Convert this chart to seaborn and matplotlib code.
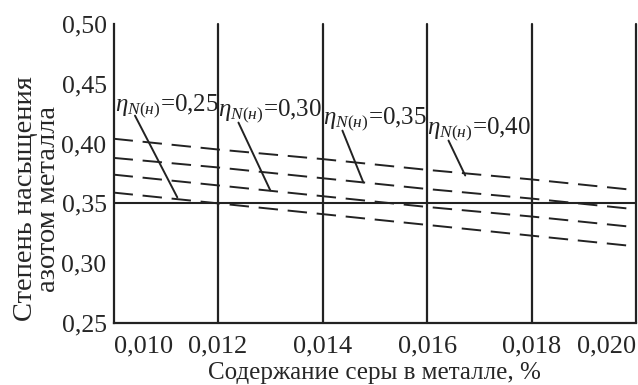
import pandas as pd
import matplotlib
matplotlib.use("Agg")
import matplotlib.pyplot as plt
import seaborn as sns

# Data
sulfur = [0.010, 0.012, 0.014, 0.016, 0.018, 0.020]
eta_labels = ["0,25", "0,30", "0,35", "0,40"]
sat_025 = [0.359, 0.350, 0.341, 0.332, 0.323, 0.314]
sat_030 = [0.374, 0.365, 0.356, 0.347, 0.339, 0.330]
sat_035 = [0.388, 0.380, 0.371, 0.362, 0.354, 0.345]
sat_040 = [0.404, 0.395, 0.387, 0.378, 0.370, 0.361]
reference_level = 0.35

x_ticks = [0.010, 0.012, 0.014, 0.016, 0.018, 0.020]
x_tick_labels = ["0,010", "0,012", "0,014", "0,016", "0,018", "0,020"]
y_ticks = [0.25, 0.30, 0.35, 0.40, 0.45, 0.50]
y_tick_labels = ["0,25", "0,30", "0,35", "0,40", "0,45", "0,50"]

df = pd.DataFrame({
    "S": sulfur * 4,
    "sat": sat_025 + sat_030 + sat_035 + sat_040,
    "eta": [lab for lab in eta_labels for _ in sulfur],
})

sns.set_style("white")
plt.rcParams["font.family"] = ["Liberation Serif", "DejaVu Serif"]
plt.rcParams["mathtext.fontset"] = "custom"
plt.rcParams["mathtext.rm"] = "Liberation Serif"
plt.rcParams["mathtext.it"] = "Liberation Serif:italic"

ink = "#222222"

fig = plt.figure(figsize=(6.38, 3.85), dpi=100)
ax = fig.add_axes([0.178, 0.161, 0.819, 0.777])

sns.lineplot(data=df, x="S", y="sat", hue="eta", palette=[ink] * 4,
             legend=False, ax=ax, linewidth=1.4)
for line in ax.get_lines():
    line.set_dashes((10, 5))

ax.axhline(reference_level, color=ink, lw=1.5)
for xv in x_ticks[1:]:
    ax.axvline(xv, color=ink, lw=1.6, clip_on=False)

ax.set_xlim(0.010, 0.020)
ax.set_ylim(0.25, 0.50)
ax.set_xticks(x_ticks)
ax.set_xticklabels(x_tick_labels, fontsize=19)
ax.set_yticks(y_ticks)
ax.set_yticklabels(y_tick_labels, fontsize=18.5)
labs = ax.get_xticklabels()
labs[0].set_ha("left")
labs[-1].set_ha("right")
ax.tick_params(axis="both", direction="out", length=3, width=1.4, color=ink, pad=2)
ax.tick_params(axis="x", pad=6)

for side in ["top", "right"]:
    ax.spines[side].set_visible(False)
for side in ["left", "bottom"]:
    ax.spines[side].set_color(ink)
    ax.spines[side].set_linewidth(1.6)

ax.set_xlabel("Содержание серы в металле, %", fontsize=18, labelpad=3)
ax.set_ylabel("Степень насыщения\nазотом металла", fontsize=20.5,
              linespacing=0.92)
ax.yaxis.set_label_coords(-0.1, 0.415)

# labels with leader lines: text pos, leader start, leader end
text_pos = [(0.01003, 0.4275), (0.01200, 0.4233), (0.01400, 0.4167), (0.01600, 0.4080)]
lead_from = [(0.01041, 0.4233), (0.01239, 0.4175), (0.01438, 0.4108), (0.01641, 0.4025)]
lead_to = [(0.01122, 0.3550), (0.01300, 0.3608), (0.01478, 0.3675), (0.01673, 0.3733)]

for lab, tp, lf, lt in zip(eta_labels, text_pos, lead_from, lead_to):
    ax.text(tp[0], tp[1], r"$\eta_{N(н)}$=" + lab, fontsize=18, color=ink,
            ha="left", va="baseline")
    ax.annotate("", xy=lt, xytext=lf,
                arrowprops=dict(arrowstyle="-", color=ink, lw=1.4,
                                shrinkA=0, shrinkB=0))

fig.savefig("out.png", dpi=100)
